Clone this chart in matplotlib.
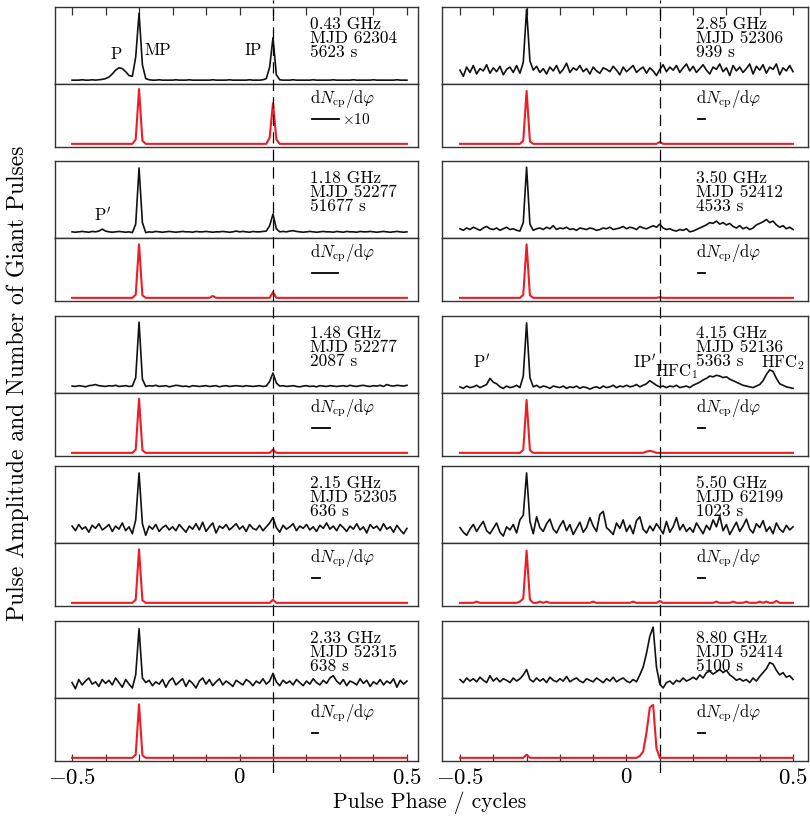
import numpy as np
import matplotlib.pyplot as plt

plt.rcParams['font.family'] = 'serif'
plt.rcParams['font.serif'] = ['cmr10', 'DejaVu Serif']
plt.rcParams['mathtext.fontset'] = 'cm'
plt.rcParams['axes.unicode_minus'] = False
plt.rcParams['axes.formatter.use_mathtext'] = True

# phase bins of the profiles (0.01 cycle)
PHASE = np.round(np.arange(-0.50, 0.5001, 0.01), 2)

# panel order: left column top->bottom, then right column top->bottom
FREQ = ["0.43 GHz", "1.18 GHz", "1.48 GHz", "2.15 GHz", "2.33 GHz",
        "2.85 GHz", "3.50 GHz", "4.15 GHz", "5.50 GHz", "8.80 GHz"]
MJD = ["MJD 62304", "MJD 52277", "MJD 52277", "MJD 52305", "MJD 52315",
       "MJD 52306", "MJD 52412", "MJD 52136", "MJD 62199", "MJD 52414"]
TOBS = ["5623 s", "51677 s", "2087 s", "636 s", "638 s",
        "939 s", "4533 s", "5363 s", "1023 s", "5100 s"]
# length of the dN/dphi scale bar (in phase units)
BAR_LEN = [0.083, 0.080, 0.054, 0.024, 0.020,
           0.022, 0.022, 0.020, 0.020, 0.020]

# mean pulse profiles (normalised panel units)
PROF_043 = [.05, .05, .05, .055, .05, .05, .055, .05, .055, .06,
            .07, .09, .13, .18, .21, .20, .16, .11, .10, .35,
            .92, .25, .07, .055, .05, .05, .055, .05, .05, .05,
            .05, .055, .05, .05, .05, .055, .05, .05, .05, .05,
            .05, .05, .055, .05, .05, .05, .05, .055, .05, .05,
            .05, .05, .05, .055, .05, .05, .05, .055, .07, .22,
            .60, .12, .055, .05, .05, .05, .055, .05, .05, .05,
            .05, .05, .055, .05, .05, .05, .05, .05, .055, .05,
            .05, .05, .05, .05, .055, .05, .05, .05, .05, .05,
            .055, .05, .05, .05, .05, .05, .05, .055, .05, .05, .05]
PROF_118 = [.08, .075, .08, .085, .08, .075, .085, .08, .09, .115,
            .09, .08, .075, .08, .085, .08, .075, .08, .07, .18,
            .91, .20, .07, .08, .075, .085, .08, .075, .08, .085,
            .08, .075, .08, .085, .08, .08, .075, .085, .08, .08,
            .085, .08, .075, .08, .08, .085, .08, .075, .08, .09,
            .08, .085, .08, .075, .085, .08, .08, .085, .09, .16,
            .31, .12, .08, .085, .08, .09, .095, .085, .08, .075,
            .08, .085, .08, .075, .08, .085, .08, .08, .075, .085,
            .08, .075, .085, .08, .08, .075, .085, .08, .08, .085,
            .08, .075, .08, .085, .08, .075, .08, .085, .08, .075, .08]
PROF_148 = [.09, .085, .095, .09, .08, .095, .10, .11, .095, .09,
            .085, .095, .09, .10, .085, .09, .095, .085, .09, .20,
            .92, .18, .085, .095, .09, .10, .085, .09, .095, .08,
            .09, .10, .095, .085, .09, .08, .095, .09, .085, .09,
            .095, .085, .09, .095, .08, .09, .095, .085, .09, .095,
            .09, .085, .095, .09, .085, .09, .095, .085, .09, .15,
            .26, .13, .09, .095, .085, .09, .095, .085, .08, .09,
            .095, .085, .09, .08, .095, .09, .085, .095, .09, .085,
            .09, .095, .085, .10, .09, .085, .095, .10, .09, .085,
            .095, .09, .10, .085, .11, .095, .09, .10, .095, .09, .10]
PROF_215 = [.22, .16, .24, .18, .21, .14, .23, .19, .25, .17,
            .20, .24, .15, .22, .18, .26, .16, .21, .12, .30,
            .91, .25, .10, .22, .18, .24, .15, .20, .23, .17,
            .21, .16, .24, .19, .14, .22, .18, .25, .17, .27,
            .15, .21, .26, .13, .22, .19, .24, .17, .21, .25,
            .18, .22, .15, .24, .19, .17, .23, .16, .21, .26,
            .33, .20, .14, .23, .18, .21, .25, .16, .22, .19,
            .24, .17, .21, .15, .23, .19, .26, .18, .22, .16,
            .24, .20, .15, .22, .18, .25, .17, .21, .13, .24,
            .19, .22, .16, .25, .18, .21, .14, .23, .17, .12, .19]
PROF_233 = [.20, .12, .24, .17, .22, .26, .18, .21, .15, .24,
            .19, .23, .17, .26, .20, .14, .24, .18, .13, .30,
            .90, .26, .20, .23, .16, .21, .18, .24, .14, .22,
            .26, .17, .21, .25, .15, .23, .19, .13, .22, .26,
            .18, .24, .16, .21, .25, .17, .22, .19, .15, .23,
            .20, .17, .24, .21, .16, .22, .19, .25, .18, .22,
            .32, .21, .16, .23, .19, .22, .17, .24, .20, .16,
            .22, .18, .25, .20, .17, .23, .19, .26, .29, .22,
            .18, .24, .16, .22, .20, .17, .25, .19, .23, .15,
            .21, .18, .24, .17, .22, .19, .25, .14, .23, .18, .22]
PROF_285 = [.18, .10, .22, .15, .24, .13, .20, .17, .25, .14,
            .21, .16, .23, .12, .19, .22, .15, .24, .14, .28,
            .97, .30, .18, .23, .15, .20, .13, .22, .17, .24,
            .14, .19, .27, .15, .21, .18, .24, .16, .20, .13,
            .22, .17, .14, .21, .19, .16, .23, .18, .12, .22,
            .16, .20, .24, .15, .19, .22, .14, .21, .17, .11,
            .19, .25, .16, .22, .18, .24, .15, .21, .26, .17,
            .23, .15, .20, .25, .18, .13, .22, .19, .26, .16,
            .21, .11, .24, .17, .22, .15, .20, .26, .13, .23,
            .18, .25, .14, .22, .19, .26, .12, .21, .17, .24, .16]
PROF_350 = [.12, .10, .13, .11, .14, .12, .10, .13, .15, .12,
            .11, .13, .10, .12, .14, .11, .12, .10, .09, .20,
            .92, .18, .10, .12, .13, .11, .14, .12, .16, .11,
            .13, .12, .14, .11, .12, .10, .13, .12, .11, .13,
            .12, .10, .11, .13, .12, .14, .11, .12, .13, .15,
            .12, .14, .13, .11, .15, .13, .12, .14, .16, .14,
            .18, .13, .11, .12, .10, .09, .11, .10, .12, .08,
            .09, .11, .13, .15, .17, .20, .19, .22, .18, .20,
            .17, .19, .15, .13, .16, .12, .14, .11, .13, .17,
            .19, .21, .24, .20, .22, .17, .14, .16, .12, .14, .11]
PROF_415 = [.08, .06, .09, .07, .08, .10, .07, .09, .11, .19,
            .14, .12, .08, .06, .09, .07, .08, .10, .07, .22,
            .91, .20, .08, .10, .07, .09, .08, .06, .09, .08,
            .07, .09, .06, .08, .07, .09, .06, .08, .07, .05,
            .07, .08, .06, .09, .07, .08, .10, .07, .09, .08,
            .10, .08, .09, .11, .08, .10, .12, .16, .13, .10,
            .08, .09, .07, .09, .08, .10, .07, .08, .09, .07,
            .10, .12, .14, .17, .19, .22, .21, .23, .22, .20,
            .21, .18, .16, .14, .12, .10, .09, .08, .07, .09,
            .11, .16, .24, .30, .28, .19, .12, .10, .08, .07, .06]
PROF_550 = [.20, .14, .10, .18, .24, .15, .22, .28, .16, .12,
            .19, .26, .14, .09, .21, .17, .24, .13, .30, .36,
            .91, .28, .12, .34, .20, .15, .25, .31, .18, .13,
            .22, .29, .16, .24, .11, .19, .27, .14, .20, .33,
            .22, .15, .37, .41, .20, .16, .11, .26, .19, .30,
            .15, .23, .12, .29, .34, .18, .13, .22, .16, .25,
            .19, .12, .28, .14, .21, .33, .17, .24, .15, .20,
            .14, .26, .19, .12, .23, .17, .30, .21, .35, .16,
            .24, .11, .19, .27, .15, .22, .31, .18, .13, .25,
            .20, .29, .15, .21, .12, .26, .18, .14, .23, .17, .21]
PROF_880 = [.24, .20, .26, .22, .25, .21, .27, .23, .20, .29,
            .22, .26, .21, .25, .23, .20, .26, .22, .25, .30,
            .37, .24, .21, .26, .22, .25, .20, .27, .23, .21,
            .25, .22, .28, .21, .24, .26, .22, .20, .25, .23,
            .21, .26, .23, .20, .25, .22, .27, .21, .24, .26,
            .22, .20, .24, .21, .30, .40, .58, .80, .92, .40,
            .18, .13, .20, .22, .18, .23, .21, .26, .22, .24,
            .27, .24, .30, .26, .33, .35, .31, .34, .37, .33,
            .36, .30, .27, .23, .25, .22, .24, .20, .26, .22,
            .28, .33, .38, .46, .44, .36, .30, .33, .27, .29, .24]
PROFILES = [PROF_043, PROF_118, PROF_148, PROF_215, PROF_233,
            PROF_285, PROF_350, PROF_415, PROF_550, PROF_880]

# giant-pulse phase distribution dN/dphi: (phase bin, value); all other bins at the floor
DN_FLOOR = 0.05
DN_043 = [(-0.31, .12), (-0.30, .92), (-0.29, .10), (0.09, .15), (0.10, .70), (0.11, .12)]
DN_118 = [(-0.31, .10), (-0.30, .90), (-0.29, .09), (-0.08, .08), (0.10, .14)]
DN_148 = [(-0.31, .10), (-0.30, .91), (-0.29, .09), (0.10, .10)]
DN_215 = [(-0.31, .10), (-0.30, .90), (-0.29, .09), (0.10, .10)]
DN_233 = [(-0.31, .10), (-0.30, .90), (-0.29, .09)]
DN_285 = [(-0.31, .10), (-0.30, .89), (-0.29, .09), (0.10, .08)]
DN_350 = [(-0.31, .10), (-0.30, .90), (-0.29, .09), (0.10, .06)]
DN_415 = [(-0.31, .10), (-0.30, .89), (-0.29, .09), (0.06, .07), (0.07, .08), (0.08, .07)]
DN_550 = [(-0.45, .07), (-0.32, .07), (-0.31, .12), (-0.30, .88), (-0.29, .10),
          (-0.26, .07), (-0.24, .07), (-0.10, .07), (0.02, .07), (0.10, .08),
          (0.27, .07), (0.32, .07), (0.36, .07), (0.40, .07), (0.42, .07), (0.45, .08)]
DN_880 = [(-0.30, .10), (0.04, .08), (0.05, .15), (0.06, .45), (0.07, .85),
          (0.08, .89), (0.09, .20)]
DNDPHI = [DN_043, DN_118, DN_148, DN_215, DN_233,
          DN_285, DN_350, DN_415, DN_550, DN_880]

# component labels: (panel, phase, height, text)
COMPONENTS = [(0, -0.37, 0.38, "P"), (0, -0.245, 0.44, "MP"), (0, 0.04, 0.44, "IP"),
              (1, -0.41, 0.29, r"P$'$"),
              (7, -0.435, 0.40, r"P$'$"), (7, 0.055, 0.40, r"IP$'$"),
              (7, 0.15, 0.28, r"HFC$_1$"), (7, 0.47, 0.40, r"HFC$_2$")]

W, H = 810, 826
COL_PX = [(55, 418), (442, 808)]
COL_XLIM = [(-0.551, 0.533), (-0.554, 0.545)]
GROUP_TOP = [7, 161, 316, 466, 621]
TOP_H, BOT_H = 77, 63
RED = '#ee1c25'
SPINE = '#333333'


def px_axes(fig, x0, x1, top, height):
    return fig.add_axes([x0 / W, 1 - (top + height) / H, (x1 - x0) / W, height / H])


def style(ax, xlim):
    ax.set_xlim(*xlim)
    ax.set_ylim(0, 1)
    ax.set_yticks([])
    ax.set_xticks([])
    for sp in ax.spines.values():
        sp.set_color(SPINE)
        sp.set_linewidth(1.0)


fig = plt.figure(figsize=(W / 100, H / 100), dpi=100)
ticks = np.round(np.arange(-0.5, 0.51, 0.1), 1)
tick_labels = ['$-0.5$' if t == -0.5 else '$0$' if t == 0 else '$0.5$' if t == 0.5 else ''
               for t in ticks]

prof_axes = []
for i in range(10):
    col, row = divmod(i, 5)
    x0, x1 = COL_PX[col]
    xlim = COL_XLIM[col]
    top = GROUP_TOP[row]

    ax = px_axes(fig, x0, x1, top, TOP_H)
    style(ax, xlim)
    prof_axes.append(ax)
    ax.plot(PHASE, PROFILES[i], color='#111111', lw=1.2)
    for k, line in enumerate([FREQ[i], MJD[i], TOBS[i]]):
        ax.text(0.21, 0.78 - 0.185 * k, line, fontsize=12.5, va='center', ha='left')
    if row == 0:
        ax.set_xticks(ticks)
        ax.tick_params(axis='x', direction='in', top=True, bottom=False,
                       labelbottom=False, length=6, width=0.9, color=SPINE)

    axb = px_axes(fig, x0, x1, top + TOP_H, BOT_H)
    style(axb, xlim)
    dn = np.full(len(PHASE), DN_FLOOR)
    for ph, val in DNDPHI[i]:
        dn[np.argmin(np.abs(PHASE - ph))] = val
    axb.plot(PHASE, dn, color=RED, lw=1.5)
    axb.text(0.21, 0.76, r'$\mathrm{d}N_{\mathrm{cp}}/\mathrm{d}\varphi$',
             fontsize=12, va='center', ha='left')
    axb.plot([0.215, 0.215 + BAR_LEN[i]], [0.45, 0.45], color='k', lw=1.3)
    if i == 0:
        axb.text(0.305, 0.44, r'$\times10$', fontsize=11, va='center', ha='left')
    if row == 4:
        axb.set_xticks(ticks)
        axb.set_xticklabels(tick_labels)
        axb.tick_params(axis='x', direction='in', length=5, width=0.9,
                        color=SPINE, labelsize=16.5, pad=5)

for panel, ph, y, label in COMPONENTS:
    prof_axes[panel].text(ph, y, label, fontsize=12, ha='center', va='center')

# dashed reference line at phase 0.1 running through every panel of a column
for col in range(2):
    x0, x1 = COL_PX[col]
    ov = px_axes(fig, x0, x1, 0, 773)
    ov.set_xlim(*COL_XLIM[col])
    ov.axis('off')
    ov.axvline(0.1, color='k', lw=0.9, ls=(0, (9, 5)))

fig.text(18 / W, 1 - 383 / H, 'Pulse Amplitude and Number of Giant Pulses',
         rotation=90, ha='center', va='center', fontsize=17)
fig.text(430 / W, 1 - 803 / H, 'Pulse Phase / cycles', ha='center', va='center',
         fontsize=15.5)

fig.savefig('out.png', dpi=100)
